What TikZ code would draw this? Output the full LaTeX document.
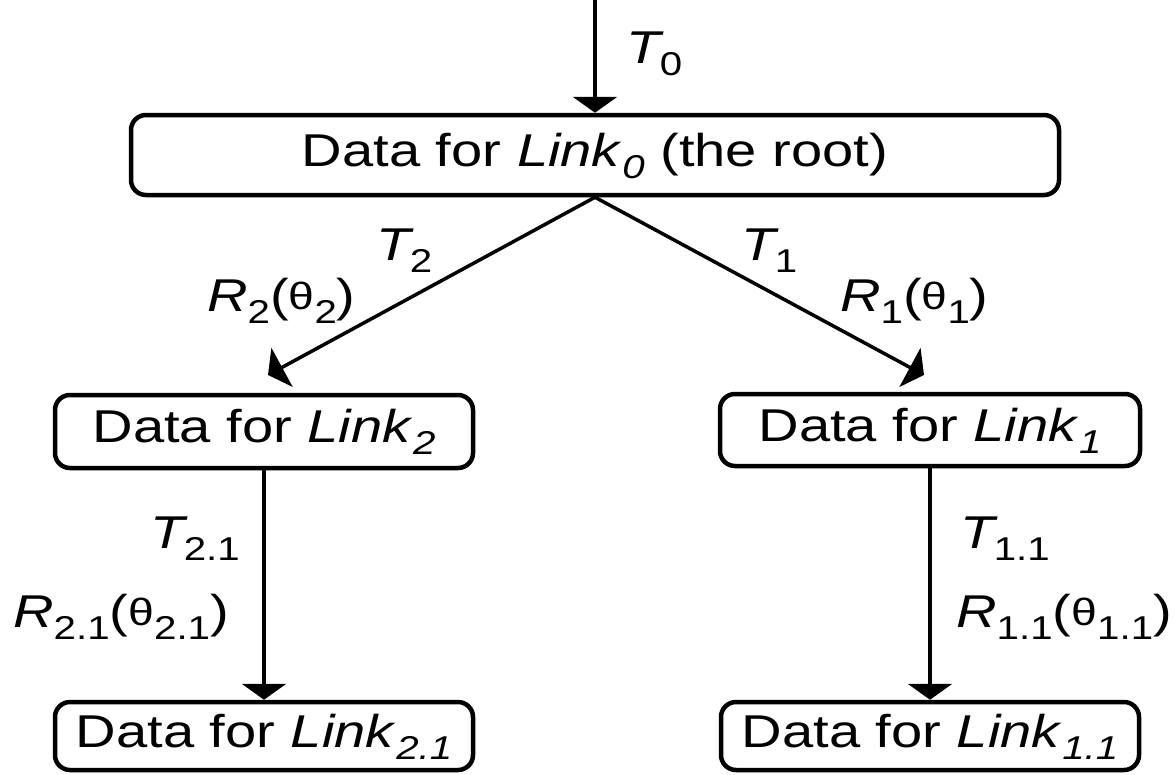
\documentclass[tikz,border=0pt]{standalone}
\usepackage{fontspec}
\setmainfont{Liberation Sans}[FakeStretch=1.22]
\usetikzlibrary{arrows.meta}
\newcommand\lsub[1]{\raisebox{-12pt}{\fontsize{33}{33}\selectfont #1}}
\newcommand\tsub[1]{\kern-4pt\lsub{#1}}
\newcommand\thet{\raisebox{2pt}{\fontsize{38}{38}\selectfont θ}}
\tikzset{
  databox/.style={draw, line width=4.5pt, rounded corners=15pt, text height=33pt, text depth=11pt,
    inner sep=0pt, font=\fontsize{46}{50}\selectfont},
  lab/.style={inner sep=0pt, anchor=base west, font=\fontsize{46}{50}\selectfont},
  arr/.style={line width=3.5pt, -{Triangle[width=44pt,length=16pt]}}
}
\begin{document}
\begin{tikzpicture}[x=1pt,y=-1pt]
\useasboundingbox (0,0) rectangle (1175,774);
\node[databox, minimum width=928pt, minimum height=80pt] (root) at (595,155) {Data for \textit{Link}\lsub{\textit{0}} (the root)};
\node[databox, minimum width=418pt, minimum height=73pt] (l2) at (264,431.5) {Data for \textit{Link}\lsub{\textit{2}}};
\node[databox, minimum width=420pt, minimum height=72pt] (l1) at (930,430) {Data for \textit{Link}\lsub{\textit{1}}};
\node[databox, minimum width=418pt, minimum height=68pt] (l21) at (264,736) {Data for \textit{Link}\lsub{\textit{2.1}}};
\node[databox, minimum width=418pt, minimum height=68pt] (l11) at (930,736) {Data for \textit{Link}\lsub{\textit{1.1}}};
\coordinate (in0) at (595,0);
\coordinate (t2) at (268,375);
\coordinate (t1) at (924,375);
\draw[arr] (in0) -- (root.north);
\draw[arr] (root.south) -- (t2);
\draw[arr] (root.south) -- (t1);
\draw[arr] (l2.south) -- (l21.north);
\draw[arr] (l1.south) -- (l11.north);
\node[lab] (lt0) at (626,63) {\textit{T}\tsub{0}};
\node[lab] (lt2) at (376,260) {\textit{T}\tsub{2}};
\node[lab] (lr2) at (207,311) {\textit{R}\lsub{2}(\thet\lsub{2})};
\node[lab] (lt1) at (741,260) {\textit{T}\tsub{1}};
\node[lab] (lr1) at (840,311) {\textit{R}\lsub{1}(\thet\lsub{1})};
\node[lab] (lt21) at (150,548) {\textit{T}\tsub{2.1}};
\node[lab] (lr21) at (13,627) {\textit{R}\lsub{2.1}(\thet\lsub{2.1})};
\node[lab] (lt11) at (960,548) {\textit{T}\tsub{1.1}};
\node[lab] (lr11) at (956,627) {\textit{R}\lsub{1.1}(\thet\lsub{1.1})};
\end{tikzpicture}
\end{document}
